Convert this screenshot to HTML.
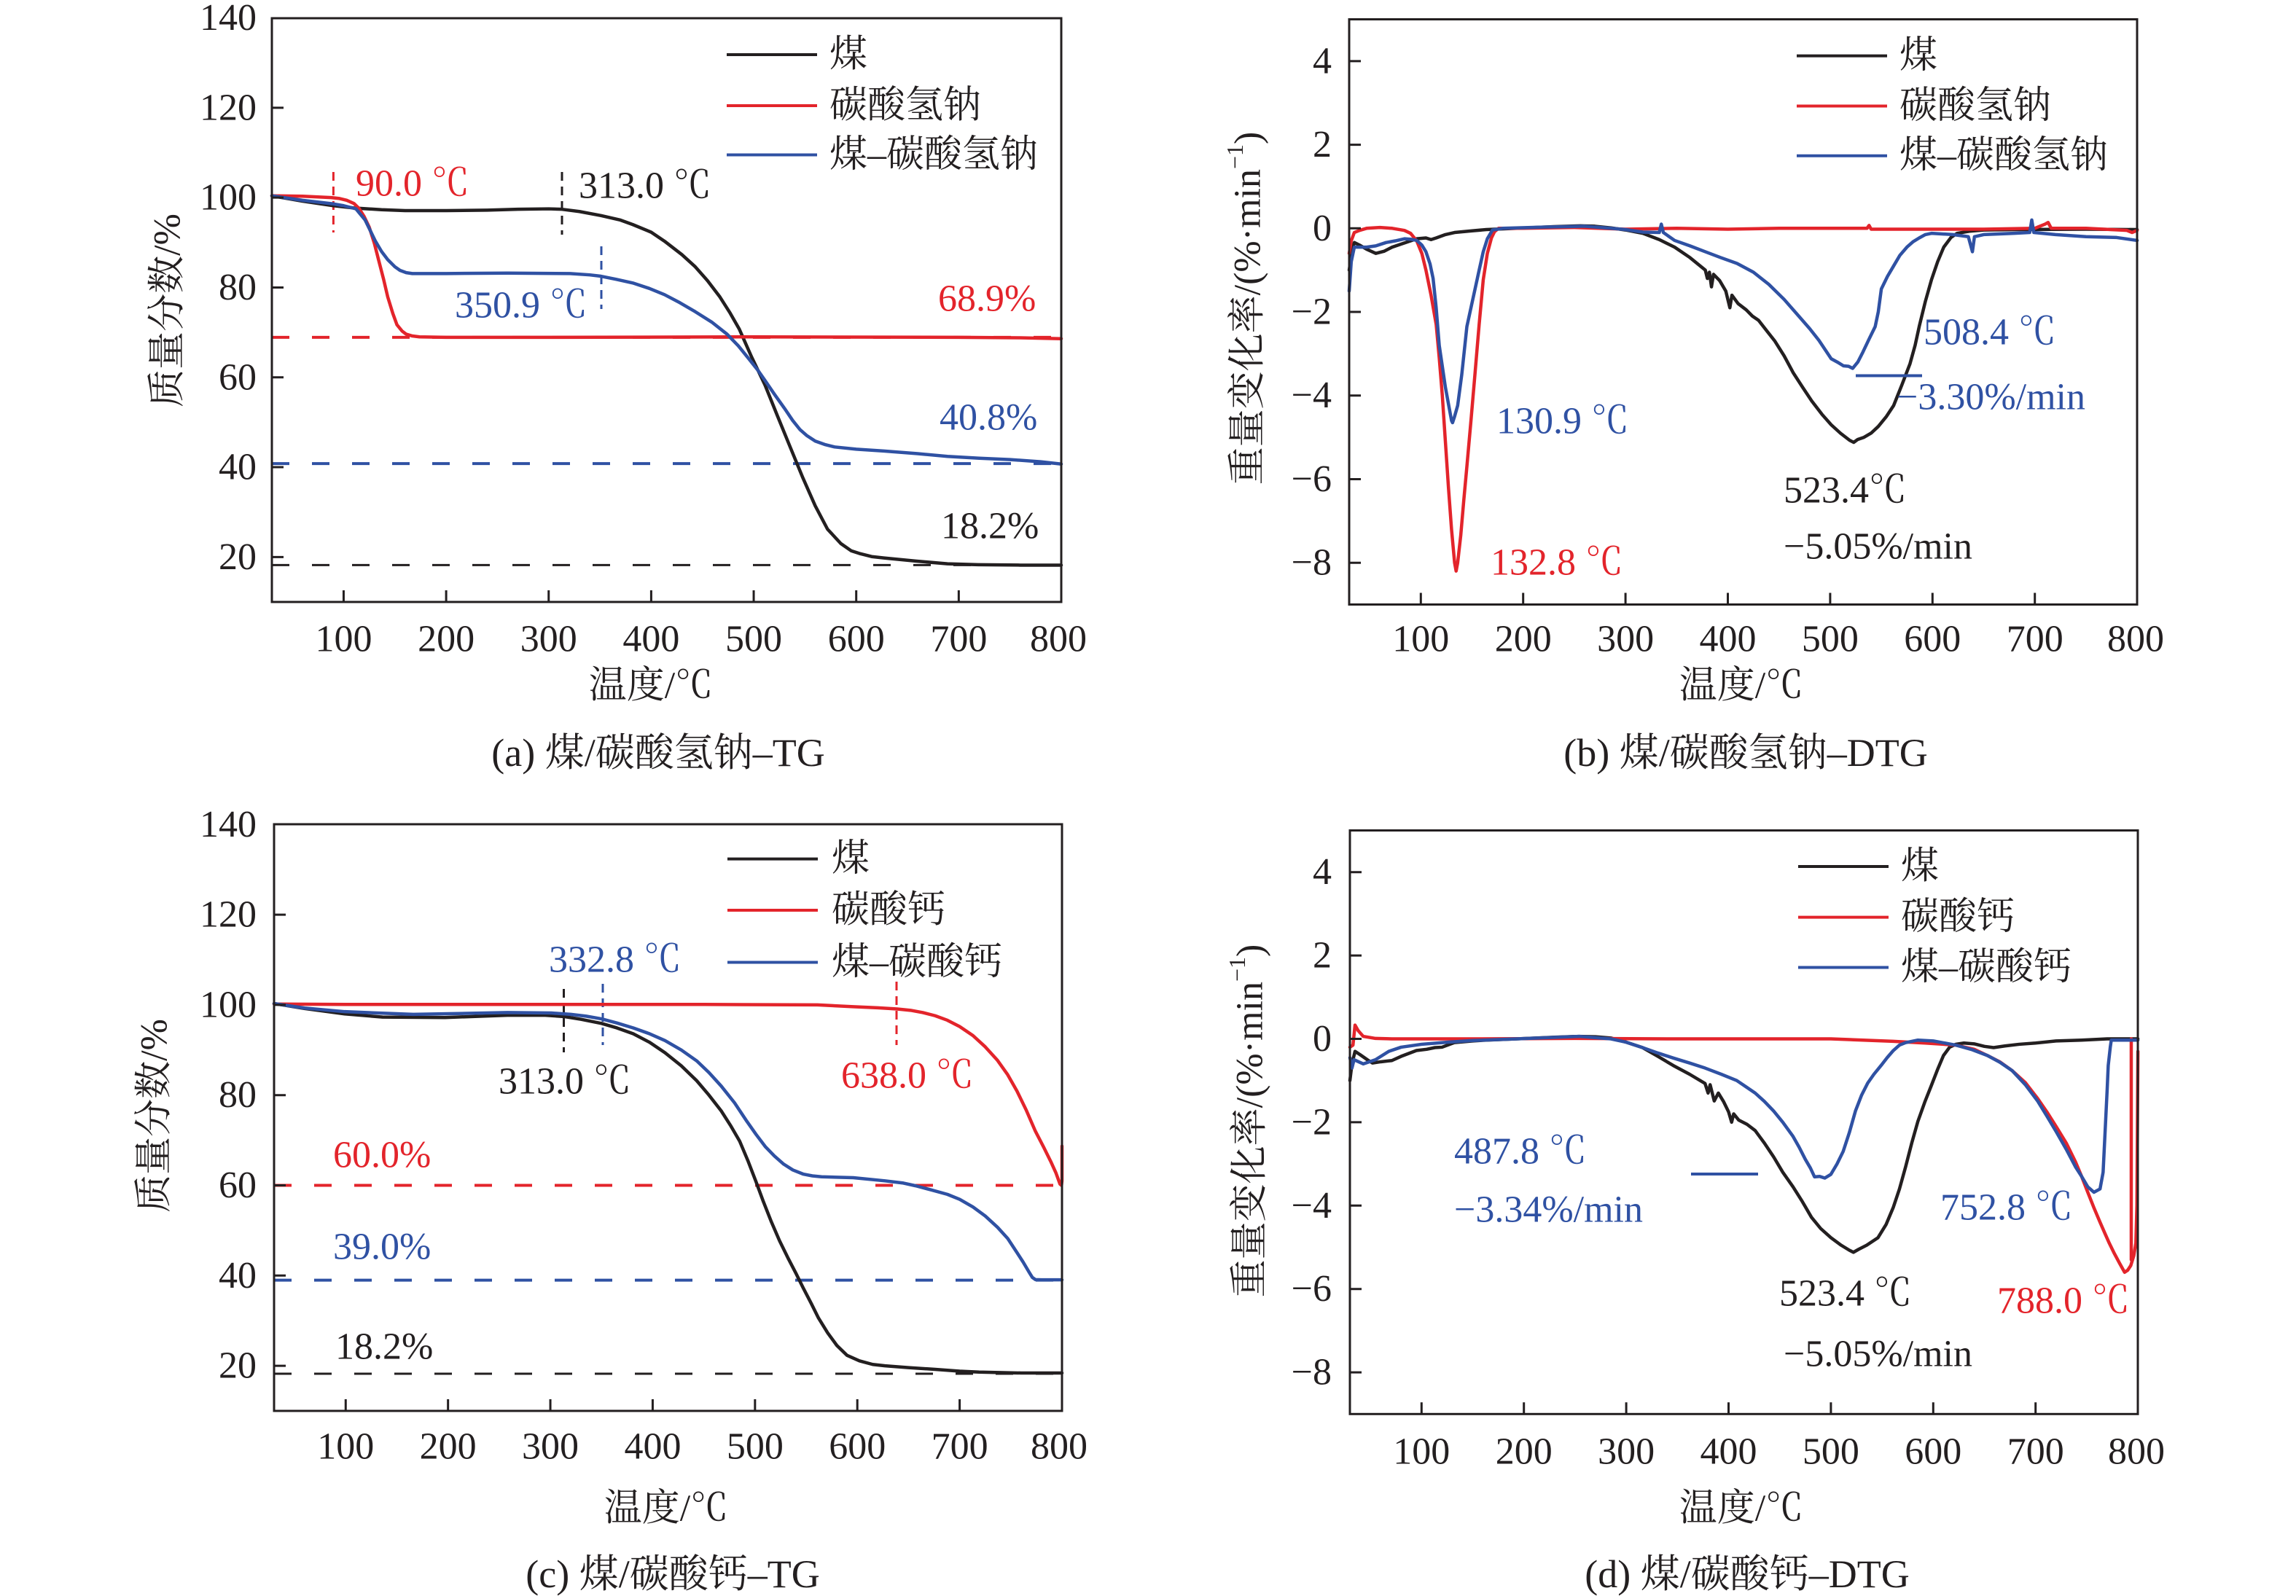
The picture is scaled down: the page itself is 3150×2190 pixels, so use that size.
<!DOCTYPE html>
<html><head><meta charset="utf-8">
<style>
html,body{margin:0;padding:0;background:#fff}
svg{display:block}
text{font-family:"Liberation Serif","Noto Serif CJK SC",serif;font-size:52px;dominant-baseline:central;fill:#231f20}
.r{fill:#e3242b}.b{fill:#2f51a3}
.e{text-anchor:end}.m{text-anchor:middle}
.cap{font-size:54px}
.cv{fill:none;stroke-width:4.5;stroke-linejoin:round;stroke-linecap:round}
</style></head><body>
<svg width="3150" height="2190" viewBox="0 0 3150 2190" xmlns="http://www.w3.org/2000/svg">
<rect width="3150" height="2190" fill="#fff"/>

<!-- ================= PANEL A ================= -->
<g>
<path d="M373 462.9H1456" stroke="#e3242b" stroke-width="4" stroke-dasharray="24 31"/>
<path d="M373 636.1H1456" stroke="#2f51a3" stroke-width="4" stroke-dasharray="24 31"/>
<path d="M373 775.4H1456" stroke="#231f20" stroke-width="3" stroke-dasharray="24 31"/>
<path d="M457.4 236V319" stroke="#e3242b" stroke-width="3" stroke-dasharray="12 8"/>
<path d="M771 236V322" stroke="#231f20" stroke-width="3" stroke-dasharray="12 8"/>
<path d="M825 338V424" stroke="#2f51a3" stroke-width="3" stroke-dasharray="12 8"/>
<g transform="matrix(1.4065 0 0 -6.165 330.8 887.65)">
<polyline class="cv" vector-effect="non-scaling-stroke" stroke="#231f20" points="30,100.4 60,99.2 90,98.2 110,97.7 137,97.3 160,97.1 200,97.1 240,97.2 270,97.4 300,97.5 313,97.4 330,96.9 351,96 370,95 382,94 400,92.3 413,90.3 430,87.3 443,84.6 455,81.5 467,77.9 477,74.3 486,70.7 498,64.5 511,58.3 523,51.5 535,44.8 548,37.6 560,31.4 572,26.2 585,23 595,21.4 603,20.8 615,20.1 627,19.8 658,19.1 689,18.5 719,18.3 760,18.2 800,18.2"/>
<polyline class="cv" vector-effect="non-scaling-stroke" stroke="#e3242b" points="30,100.4 60,100.3 88,100 96,99.8 103,99.4 110,98.7 115,97.6 120,95.8 125,93.4 130,89.8 134,86.2 139,81.8 143,77.9 148,74.2 152,71.7 157,70.3 161,69.6 167,69.2 174,69 200,68.9 300,68.9 500,69 700,68.9 760,68.8 800,68.6"/>
<polyline class="cv" vector-effect="non-scaling-stroke" stroke="#2f51a3" points="30,100.4 60,99.4 90,98.6 100,98.2 112,97.5 121,95 131,90.3 137,88 143,86.2 150,84.6 155,83.8 161,83.3 167,83.1 200,83.1 260,83.2 321,83.1 340,82.8 351,82.5 366,81.8 382,81 398,79.8 413,78.4 428,76.6 443,74.6 459,72.3 474,69.6 485,67 496,63.9 504,61.6 511,59.3 520,56.3 530,53.1 538,50.4 545,48.4 552,47 560,45.8 570,45 579,44.5 600,44 627,43.6 660,43 689,42.4 720,42 750,41.7 780,41.2 800,40.7"/>
</g>
<rect x="373" y="25" width="1083" height="801" fill="none" stroke="#231f20" stroke-width="3"/>
<path d="M373 764.35h16M373 641.05h16M373 517.75h16M373 394.45h16M373 271.15h16M373 147.85h16M471.45 826v-16M612.1 826v-16M752.75 826v-16M893.4 826v-16M1034.05 826v-16M1174.7 826v-16M1315.35 826v-16" stroke="#231f20" stroke-width="3"/>
<text class="e" x="352" y="764.35">20</text>
<text class="e" x="352" y="641.05">40</text>
<text class="e" x="352" y="517.75">60</text>
<text class="e" x="352" y="394.45">80</text>
<text class="e" x="352" y="271.15">100</text>
<text class="e" x="352" y="147.85">120</text>
<text class="e" x="352" y="24.55">140</text>
<text class="m" x="471.45" y="877">100</text>
<text class="m" x="612.1" y="877">200</text>
<text class="m" x="752.75" y="877">300</text>
<text class="m" x="893.4" y="877">400</text>
<text class="m" x="1034.05" y="877">500</text>
<text class="m" x="1174.7" y="877">600</text>
<text class="m" x="1315.35" y="877">700</text>
<text class="m" x="1452" y="877">800</text>
<text class="m" x="893" y="941">温度/℃</text>
<text class="m" transform="translate(230 426) rotate(-90)">质量分数/%</text>
<text class="m cap" x="903" y="1033">(a) 煤/碳酸氢钠–TG</text>
<path d="M997 75H1121" stroke="#231f20" stroke-width="4"/>
<path d="M997 145H1121" stroke="#e3242b" stroke-width="4"/>
<path d="M997 212.5H1121" stroke="#2f51a3" stroke-width="4"/>
<text x="1138" y="75">煤</text>
<text x="1138" y="145">碳酸氢钠</text>
<text x="1138" y="212.5">煤–碳酸氢钠</text>
<text class="r" x="488" y="252">90.0 ℃</text>
<text x="794" y="255">313.0 ℃</text>
<text class="b" x="624" y="419">350.9 ℃</text>
<text class="r" x="1287" y="410">68.9%</text>
<text class="b" x="1289" y="573">40.8%</text>
<text x="1291" y="722">18.2%</text>
</g>

<!-- ================= PANEL B ================= -->
<g>
<g transform="matrix(1.404 0 0 -57.36 1808.9 313.3)">
<polyline class="cv" vector-effect="non-scaling-stroke" stroke="#231f20" points="30,-1.0 33,-0.5 35,-0.34 40,-0.4 47,-0.5 56,-0.6 64,-0.55 72,-0.45 84,-0.35 96,-0.25 105,-0.23 110,-0.27 115,-0.23 124,-0.15 133,-0.1 150,-0.06 164,-0.03 194,0 230,0.04 256,0.06 270,0.05 286,0.01 300,-0.04 317,-0.12 333,-0.27 348,-0.45 363,-0.7 378,-1.0 380,-1.2 382,-1.05 384,-1.4 386,-1.1 392,-1.25 398,-1.5 402,-1.9 404,-1.6 410,-1.8 418,-1.95 424,-2.1 430,-2.2 438,-2.45 446,-2.7 455,-3.05 464,-3.46 473,-3.8 482,-4.13 492,-4.45 501,-4.7 510,-4.9 519,-5.07 523,-5.12 527,-5.05 533,-5.0 540,-4.9 547,-4.74 555,-4.5 562,-4.24 570,-3.75 578,-3.24 583,-2.8 587,-2.35 593,-1.75 599,-1.23 605,-0.8 611,-0.45 618,-0.22 624,-0.12 636,-0.07 650,-0.04 685,-0.03 750,-0.02 800,-0.03"/>
<polyline class="cv" vector-effect="non-scaling-stroke" stroke="#e3242b" points="30,-0.6 32,-0.3 35,-0.1 40,-0.05 47,0 60,0.02 72,0 84,-0.05 90,-0.12 96,-0.3 101,-0.6 105,-1.0 110,-1.6 115,-2.3 118,-3.1 121,-4.0 124,-5.1 127,-6.2 130,-7.2 133,-8.0 134.5,-8.2 136,-8.0 139,-7.35 142,-6.5 145,-5.7 149,-4.6 153,-3.46 157,-2.3 161,-1.23 165,-0.6 169,-0.23 172,-0.08 176,0 200,0 250,0.02 300,-0.02 350,0 400,-0.02 450,0 500,0 536,0 538,0.07 540,-0.02 600,-0.02 650,-0.02 700,0 710,0.1 713,0.14 716,0 750,0 790,-0.05 795,-0.1 800,-0.05"/>
<polyline class="cv" vector-effect="non-scaling-stroke" stroke="#2f51a3" points="30,-1.5 32,-0.8 35,-0.45 47,-0.45 56,-0.42 66,-0.34 75,-0.3 84,-0.25 90,-0.26 96,-0.29 101,-0.4 105,-0.56 109,-0.85 112,-1.2 115,-1.9 118,-2.8 121,-3.3 124,-3.8 127,-4.2 130,-4.6 131,-4.65 133,-4.5 136,-4.24 140,-3.5 145,-2.35 149,-1.9 153,-1.45 157,-1.0 161,-0.56 165,-0.25 170,-0.04 180,0 220,0.03 260,0.05 286,0 300,-0.03 317,-0.09 333,-0.1 335,0.1 337,-0.1 348,-0.29 363,-0.42 378,-0.56 393,-0.7 409,-0.84 425,-1.05 440,-1.34 455,-1.7 470,-2.12 480,-2.4 489,-2.68 495,-2.9 501,-3.12 507,-3.2 513,-3.29 518,-3.3 522,-3.35 527,-3.2 532,-2.96 538,-2.65 544,-2.35 547,-2.0 550,-1.45 556,-1.15 562,-0.9 568,-0.65 575,-0.45 581,-0.32 587,-0.23 593,-0.15 599,-0.12 620,-0.15 635,-0.2 639,-0.56 641,-0.2 650,-0.15 680,-0.12 695,-0.1 697,0.2 699,-0.1 720,-0.15 750,-0.2 780,-0.22 800,-0.29"/>
</g>
<rect x="1851" y="26.5" width="1081" height="803" fill="none" stroke="#231f20" stroke-width="3"/>
<path d="M1851 83.86h16M1851 198.58h16M1851 313.3h16M1851 428h16M1851 542.7h16M1851 657.5h16M1851 772.2h16M1949.3 829.5v-16M2089.7 829.5v-16M2230.1 829.5v-16M2370.5 829.5v-16M2510.9 829.5v-16M2651.3 829.5v-16M2791.7 829.5v-16" stroke="#231f20" stroke-width="3"/>
<text class="e" x="1827" y="83.86">4</text>
<text class="e" x="1827" y="198.58">2</text>
<text class="e" x="1827" y="313.3">0</text>
<text class="e" x="1827" y="428">−2</text>
<text class="e" x="1827" y="542.7">−4</text>
<text class="e" x="1827" y="657.5">−6</text>
<text class="e" x="1827" y="772.2">−8</text>
<text class="m" x="1949.3" y="877">100</text>
<text class="m" x="2089.7" y="877">200</text>
<text class="m" x="2230.1" y="877">300</text>
<text class="m" x="2370.5" y="877">400</text>
<text class="m" x="2510.9" y="877">500</text>
<text class="m" x="2651.3" y="877">600</text>
<text class="m" x="2791.7" y="877">700</text>
<text class="m" x="2930" y="877">800</text>
<text class="m" x="2389" y="941">温度/℃</text>
<text class="m" transform="translate(1712 423) rotate(-90)">重量变化率/(%·min<tspan font-size="32" dy="-18">−1</tspan><tspan dy="18">)</tspan></text>
<text class="m cap" x="2395" y="1033">(b) 煤/碳酸氢钠–DTG</text>
<path d="M2465 76.6H2589" stroke="#231f20" stroke-width="4"/>
<path d="M2465 145.5H2589" stroke="#e3242b" stroke-width="4"/>
<path d="M2465 213.7H2589" stroke="#2f51a3" stroke-width="4"/>
<text x="2606" y="76.6">煤</text>
<text x="2606" y="145.5">碳酸氢钠</text>
<text x="2606" y="213.7">煤–碳酸氢钠</text>
<text class="b" x="2639" y="456">508.4 ℃</text>
<path d="M2546 515.5H2637" stroke="#2f51a3" stroke-width="4"/>
<text class="b" x="2602" y="545">−3.30%/min</text>
<text class="b" x="2053" y="578">130.9 ℃</text>
<text class="r" x="2045" y="772">132.8 ℃</text>
<text x="2447" y="673">523.4℃</text>
<text x="2447" y="750">−5.05%/min</text>
</g>

<!-- ================= PANEL C ================= -->
<g>
<path d="M376 1626.5H1457" stroke="#e3242b" stroke-width="4" stroke-dasharray="24 31"/>
<path d="M376 1756.6H1457" stroke="#2f51a3" stroke-width="4" stroke-dasharray="24 31"/>
<path d="M376 1885H1457" stroke="#231f20" stroke-width="3" stroke-dasharray="24 31"/>
<path d="M827 1350V1434" stroke="#2f51a3" stroke-width="3" stroke-dasharray="12 8"/>
<path d="M773.5 1357V1444" stroke="#231f20" stroke-width="3" stroke-dasharray="12 8"/>
<path d="M1230 1347V1434" stroke="#e3242b" stroke-width="3" stroke-dasharray="12 8"/>
<g transform="matrix(1.4039 0 0 -6.19 333.88 1997.9)">
<polyline class="cv" vector-effect="non-scaling-stroke" stroke="#231f20" points="30,100.3 60,99.2 99,98 136,97.3 197,97.2 258,97.7 295,97.7 314,97.4 330,96.8 350,95.9 365,94.9 381,93.6 397,91.7 412,89.4 428,86.5 443,83.2 455,80 467,76.5 476,73.3 485,69.8 493,65.5 501,60.8 508,56.5 516,51.9 524,47.7 532,44 540,40.5 547,37.3 555,33.8 562,30.6 571,27.3 580,24.5 590,22.3 602,21.1 615,20.3 627,20 650,19.6 676,19.2 700,18.8 719,18.6 760,18.4 800,18.4"/>
<polyline class="cv" vector-effect="non-scaling-stroke" stroke="#e3242b" points="30,100.2 100,100.1 300,100.1 450,100.1 561,100 596,99.6 620,99.35 639,99.1 652,98.8 664,98.3 676,97.6 688,96.6 700,95.2 713,93.2 725,90.7 737,87.7 747,84.5 756,80.9 765,76.7 774,72 782,68.5 789,65.3 794,62.8 798,60.3 799.5,60 800,61 800,68.7"/>
<polyline class="cv" vector-effect="non-scaling-stroke" stroke="#2f51a3" points="30,100.3 60,99.3 99,98.5 166,97.9 258,98.3 301,98.2 320,97.9 335,97.5 350,96.9 365,96 381,94.9 397,93.6 412,92.1 428,90 443,87.6 455,85 467,82 480,78.3 492,74.2 501,71.3 510,68.6 519,66.5 528,64.7 537,63.4 547,62.5 556,62.1 565,61.9 596,61.7 627,61 645,60.5 657,59.9 672,59 688,58 700,56.9 713,55.2 725,53.2 737,50.7 747,48.2 756,45.1 762,43 768,40.7 771,39.6 774,39.1 780,39.05 800,39.05"/>
</g>
<rect x="376" y="1131" width="1081" height="805" fill="none" stroke="#231f20" stroke-width="3"/>
<path d="M376 1874.1h16M376 1750.3h16M376 1626.5h16M376 1502.7h16M376 1378.9h16M376 1255.1h16M474.27 1936v-16M614.66 1936v-16M755.05 1936v-16M895.44 1936v-16M1035.83 1936v-16M1176.2 1936v-16M1316.6 1936v-16" stroke="#231f20" stroke-width="3"/>
<text class="e" x="352" y="1874.1">20</text>
<text class="e" x="352" y="1750.3">40</text>
<text class="e" x="352" y="1626.5">60</text>
<text class="e" x="352" y="1502.7">80</text>
<text class="e" x="352" y="1378.9">100</text>
<text class="e" x="352" y="1255.1">120</text>
<text class="e" x="352" y="1131.3">140</text>
<text class="m" x="474.27" y="1985">100</text>
<text class="m" x="614.66" y="1985">200</text>
<text class="m" x="755.05" y="1985">300</text>
<text class="m" x="895.44" y="1985">400</text>
<text class="m" x="1035.83" y="1985">500</text>
<text class="m" x="1176.2" y="1985">600</text>
<text class="m" x="1316.6" y="1985">700</text>
<text class="m" x="1453" y="1985">800</text>
<text class="m" x="914" y="2070">温度/℃</text>
<text class="m" transform="translate(212 1531) rotate(-90)">质量分数/%</text>
<text class="m cap" x="923" y="2160">(c) 煤/碳酸钙–TG</text>
<path d="M998 1178.6H1122" stroke="#231f20" stroke-width="4"/>
<path d="M998 1249H1122" stroke="#e3242b" stroke-width="4"/>
<path d="M998 1320.5H1122" stroke="#2f51a3" stroke-width="4"/>
<text x="1141" y="1178.6">煤</text>
<text x="1141" y="1249">碳酸钙</text>
<text x="1141" y="1320.5">煤–碳酸钙</text>
<text class="b" x="753" y="1317">332.8 ℃</text>
<text x="684" y="1484">313.0 ℃</text>
<text class="r" x="1154" y="1476">638.0 ℃</text>
<text class="r" x="457" y="1585">60.0%</text>
<text class="b" x="457" y="1711">39.0%</text>
<text x="460" y="1848">18.2%</text>
</g>

<!-- ================= PANEL D ================= -->
<g>
<g transform="matrix(1.404 0 0 -57.2 1809.9 1425.5)">
<polyline class="cv" vector-effect="non-scaling-stroke" stroke="#231f20" points="30,-1.0 32,-0.6 35,-0.3 40,-0.38 47,-0.5 52,-0.58 60,-0.55 71,-0.52 80,-0.42 95,-0.28 105,-0.25 113,-0.21 120,-0.2 132,-0.09 150,-0.05 163,-0.03 193,0 230,0.04 254,0.06 270,0.05 285,0.02 300,-0.08 316,-0.21 331,-0.42 346,-0.64 362,-0.85 377,-1.07 380,-1.3 382,-1.1 386,-1.49 390,-1.3 395,-1.5 400,-1.75 403,-2.0 405,-1.8 410,-1.95 418,-2.05 426,-2.2 435,-2.5 444,-2.83 453,-3.2 463,-3.55 472,-3.9 481,-4.28 490,-4.55 500,-4.77 510,-4.95 518,-5.07 522,-5.12 527,-5.05 535,-4.95 546,-4.77 554,-4.45 561,-4.04 567,-3.6 573,-3.07 579,-2.5 585,-1.98 592,-1.5 598,-1.13 604,-0.75 610,-0.4 616,-0.2 622,-0.13 630,-0.1 640,-0.12 650,-0.18 659,-0.21 670,-0.17 684,-0.13 700,-0.1 720,-0.05 745,-0.03 770,0 800,0"/>
<polyline class="cv" vector-effect="non-scaling-stroke" stroke="#e3242b" points="30,-0.2 33,-0.15 35,0.33 38,0.2 43,0.06 55,0.01 71,0 150,0 250,0.01 350,0 450,0 500,0 561,-0.06 592,-0.1 622,-0.15 640,-0.25 653,-0.4 665,-0.55 677,-0.76 690,-1.05 702,-1.43 711,-1.75 720,-2.1 730,-2.5 739,-2.95 745,-3.3 751,-3.68 757,-4.05 763,-4.4 768,-4.68 772,-4.9 777,-5.15 782,-5.38 787,-5.6 790,-5.55 793,-5.44 796,-5.2 798,-4.9 799,-4 800,-0.3"/>
<polyline class="cv" vector-effect="non-scaling-stroke" stroke="#e3242b" points="793.5,0 793.5,-5.3"/>
<polyline class="cv" vector-effect="non-scaling-stroke" stroke="#2f51a3" points="30,-0.45 32,-0.7 34,-0.5 43,-0.6 55,-0.5 68,-0.3 80,-0.2 100,-0.13 125,-0.08 150,-0.04 193,0 254,0.06 285,0 300,-0.08 316,-0.21 331,-0.34 346,-0.46 362,-0.58 377,-0.7 393,-0.85 408,-1.0 417,-1.15 426,-1.3 435,-1.5 444,-1.73 453,-2.0 463,-2.34 469,-2.6 475,-2.89 480,-3.1 484,-3.31 489,-3.3 494,-3.34 500,-3.25 506,-3.0 512,-2.7 518,-2.25 524,-1.73 530,-1.35 536,-1.06 542,-0.85 549,-0.64 555,-0.45 561,-0.28 567,-0.15 573,-0.09 585,-0.03 600,-0.05 622,-0.15 638,-0.26 653,-0.4 665,-0.56 677,-0.76 690,-1.1 702,-1.49 711,-1.85 720,-2.22 730,-2.65 739,-3.07 745,-3.3 751,-3.55 757,-3.68 763,-3.6 766,-3.2 768,-2.2 770,-1.2 771,-0.64 773,-0.2 774,-0.03 790,-0.03 800,-0.03"/>
</g>
<rect x="1852" y="1139.5" width="1081" height="800.8" fill="none" stroke="#231f20" stroke-width="3"/>
<path d="M1852 1196.7h16M1852 1311.1h16M1852 1425.5h16M1852 1539.9h16M1852 1654.3h16M1852 1768.7h16M1852 1883.1h16M1950.3 1940.3v-16M2090.7 1940.3v-16M2231.1 1940.3v-16M2371.5 1940.3v-16M2511.9 1940.3v-16M2652.3 1940.3v-16M2792.7 1940.3v-16" stroke="#231f20" stroke-width="3"/>
<text class="e" x="1827" y="1196.7">4</text>
<text class="e" x="1827" y="1311.1">2</text>
<text class="e" x="1827" y="1425.5">0</text>
<text class="e" x="1827" y="1539.9">−2</text>
<text class="e" x="1827" y="1654.3">−4</text>
<text class="e" x="1827" y="1768.7">−6</text>
<text class="e" x="1827" y="1883.1">−8</text>
<text class="m" x="1950.3" y="1992">100</text>
<text class="m" x="2090.7" y="1992">200</text>
<text class="m" x="2231.1" y="1992">300</text>
<text class="m" x="2371.5" y="1992">400</text>
<text class="m" x="2511.9" y="1992">500</text>
<text class="m" x="2652.3" y="1992">600</text>
<text class="m" x="2792.7" y="1992">700</text>
<text class="m" x="2931" y="1992">800</text>
<text class="m" x="2389" y="2070">温度/℃</text>
<text class="m" transform="translate(1715 1538) rotate(-90)">重量变化率/(%·min<tspan font-size="32" dy="-18">−1</tspan><tspan dy="18">)</tspan></text>
<text class="m cap" x="2397" y="2160">(d) 煤/碳酸钙–DTG</text>
<path d="M2467 1189H2591" stroke="#231f20" stroke-width="4"/>
<path d="M2467 1258.6H2591" stroke="#e3242b" stroke-width="4"/>
<path d="M2467 1327.5H2591" stroke="#2f51a3" stroke-width="4"/>
<text x="2608" y="1189">煤</text>
<text x="2608" y="1258.6">碳酸钙</text>
<text x="2608" y="1327.5">煤–碳酸钙</text>
<text class="b" x="1995" y="1580">487.8 ℃</text>
<path d="M2320 1611H2412" stroke="#2f51a3" stroke-width="4"/>
<text class="b" x="1995" y="1660">−3.34%/min</text>
<text class="b" x="2662" y="1657">752.8 ℃</text>
<text x="2441" y="1775">523.4 ℃</text>
<text class="r" x="2740" y="1785">788.0 ℃</text>
<text x="2447" y="1858">−5.05%/min</text>
</g>
</svg>
</body></html>
